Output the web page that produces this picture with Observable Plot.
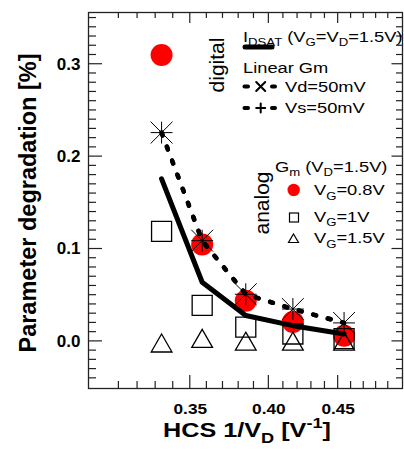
<!DOCTYPE html>
<html><head><meta charset="utf-8">
<script src="https://cdn.jsdelivr.net/npm/d3@7"></script>
<script src="https://cdn.jsdelivr.net/npm/@observablehq/plot@0.6"></script>
<style>body{margin:0;background:#fff} #chart{width:404px;height:451px}</style>
</head><body><div id="chart"></div>
<script>
// HCS drain voltages (V); x axis is 1/VD
const VD = [3.0, 2.8, 2.6, 2.4, 2.2];
const hcs = VD.map(v => 1 / v);
// IDSAT (VG=VD=1.5V) degradation [%]
const idsat = [0.176, 0.064, 0.028, 0.017, 0.008];
// Linear Gm, Vd=50mV and Vs=50mV
const gmVd = [0.226, 0.109, 0.051, 0.035, 0.020];
const gmVs = [0.226, 0.109, 0.051, 0.035, 0.020];
// Gm (VD=1.5V) at VG = 0.8V, 1V, 1.5V
const gmVg08 = [0.310, 0.105, 0.044, 0.021, 0.006];
const gmVg1 = [0.119, 0.039, 0.0155, 0.008, 0.003];
const gmVg15 = [-0.005, 0.000, -0.003, -0.003, -0.003];
// ticks
const xMajor = [0.35, 0.40, 0.45];
const xMinor = [0.31,0.32,0.33,0.34,0.36,0.37,0.38,0.39,0.41,0.42,0.43,0.44,0.46,0.47,0.48,0.49];
const yMajor = [0.0, 0.1, 0.2, 0.3];
const yMinor = [-0.04,-0.03,-0.02,-0.01,0.01,0.02,0.03,0.04,0.05,0.06,0.07,0.08,0.09,0.11,0.12,0.13,0.14,0.15,0.16,0.17,0.18,0.19,0.21,0.22,0.23,0.24,0.25,0.26,0.27,0.28,0.29,0.31,0.32,0.33,0.34,0.35];

const FONT = "'Liberation Sans', Arial, Helvetica, sans-serif";

const plot = Plot.plot({
  width: 404, height: 451,
  marginLeft: 88, marginRight: 2, marginTop: 12, marginBottom: 63,
  style: {fontFamily: FONT, background: "white", color: "black"},
  x: {type: "log", domain: [0.2944, 0.502]},
  y: {domain: [-0.051, 0.356]},
  marks: [
    Plot.dot(gmVg08, {x: hcs, y: gmVg08, r: 11, fill: "#ff0000", stroke: "none"}),
    Plot.dot(gmVg1, {x: hcs, y: gmVg1, r: 11.3, symbol: "square", fill: "none", stroke: "black", strokeWidth: 1.3}),
    Plot.dot(gmVg15, {x: hcs, y: gmVg15, r: 7.7, symbol: "triangle", fill: "none", stroke: "black", strokeWidth: 1.3}),
    Plot.line(idsat, {x: hcs, y: idsat, stroke: "black", strokeWidth: 5, strokeLinejoin: "round"}),
    Plot.line(gmVd, {x: hcs, y: gmVd, stroke: "black", strokeWidth: 4.5, strokeDasharray: "3,12", strokeLinecap: "round"}),
    Plot.line(gmVs, {x: hcs, y: gmVs, stroke: "black", strokeWidth: 4.5, strokeDasharray: "3,12", strokeLinecap: "round"}),
    Plot.dot(gmVd, {x: hcs, y: gmVd, r: 10, symbol: "times", stroke: "black", strokeWidth: 1}),
    Plot.dot(gmVs, {x: hcs, y: gmVs, r: 7.1, symbol: "plus", stroke: "black", strokeWidth: 1}),
    Plot.axisX({ticks: xMajor, tickFormat: d => d.toFixed(2), tickSize: 0, tickPadding: 15, fontSize: 15, fontWeight: "bold", label: null}),
    Plot.axisY({ticks: yMajor, tickFormat: d => d.toFixed(1), tickSize: 0, tickPadding: 8, fontSize: 17, fontWeight: "bold", label: null}),
    Plot.frame({stroke: "#222", strokeWidth: 1.3})
  ]
});
document.getElementById("chart").appendChild(plot);

const svg = d3.select(plot);
// stretch x tick labels horizontally
svg.selectAll('g[aria-label="x-axis tick label"] text').each(function() {
  const t = d3.select(this); t.attr("transform", (t.attr("transform") || "") + " scale(1.15,1)");
});
const sx = plot.scale("x"), sy = plot.scale("y");
const [xa, xb] = sx.range, [ya, yb] = sy.range; // ya bottom, yb top
const tg = svg.append("g").attr("stroke", "#222").attr("stroke-width", 1.2);
function xt(v, len) {
  const x = sx.apply(v);
  tg.append("line").attr("x1", x).attr("x2", x).attr("y1", ya).attr("y2", ya - len);
  tg.append("line").attr("x1", x).attr("x2", x).attr("y1", yb).attr("y2", yb + len * 0.85);
}
function yt(v, len) {
  const y = sy.apply(v);
  tg.append("line").attr("y1", y).attr("y2", y).attr("x1", xa).attr("x2", xa + len);
  tg.append("line").attr("y1", y).attr("y2", y).attr("x1", xb).attr("x2", xb - len * 0.75);
}
xMajor.forEach(v => xt(v, 13)); xMinor.forEach(v => xt(v, 7));
yMajor.forEach(v => yt(v, 14)); yMinor.forEach(v => yt(v, 8));

function rich(g, x, y, parts, {size = 15.5, weight = "normal", sx = 1.18, anchor = "start", rotate = 0} = {}) {
  const t = g.append("text")
    .attr("transform", `translate(${x},${y}) scale(${sx},1)` + (rotate ? ` rotate(${rotate})` : ""))
    .attr("font-size", size).attr("font-weight", weight).attr("text-anchor", anchor)
    .attr("fill", "black").attr("font-family", FONT);
  let shift = 0;
  for (const [s, kind] of parts) {
    const target = kind === "sub" ? size * 0.3 : kind === "sup" ? -size * 0.42 : 0;
    const ts = t.append("tspan").text(s).attr("dy", target - shift);
    if (kind) ts.attr("font-size", size * 0.72);
    shift = target;
  }
  return t;
}

const lg = svg.append("g");
// IDSAT legend
rich(lg, 243, 41.7, [["I"], ["DSAT", "sub"], [" (V"], ["G", "sub"], ["=V"], ["D", "sub"], ["=1.5V)"]]);
lg.append("line").attr("x1", 245).attr("x2", 272).attr("y1", 47).attr("y2", 47)
  .attr("stroke", "black").attr("stroke-width", 5).attr("stroke-linecap", "round");
rich(lg, 243, 72.7, [["Linear Gm"]]);
function dashMarker(y, kind) {
  const s = lg.append("g").attr("stroke", "black").attr("stroke-linecap", "round");
  s.append("line").attr("x1", 244.5).attr("x2", 248).attr("y1", y).attr("y2", y).attr("stroke-width", 4);
  s.append("line").attr("x1", 272).attr("x2", 275).attr("y1", y).attr("y2", y).attr("stroke-width", 4);
  const c = 260.7, h = 4.5;
  if (kind === "times") {
    s.append("line").attr("x1", c - h).attr("x2", c + h).attr("y1", y - h).attr("y2", y + h).attr("stroke-width", 2);
    s.append("line").attr("x1", c - h).attr("x2", c + h).attr("y1", y + h).attr("y2", y - h).attr("stroke-width", 2);
  } else {
    s.append("line").attr("x1", c - h).attr("x2", c + h).attr("y1", y).attr("y2", y).attr("stroke-width", 2);
    s.append("line").attr("x1", c).attr("x2", c).attr("y1", y - h).attr("y2", y + h).attr("stroke-width", 2);
  }
}
dashMarker(86.5, "times");
rich(lg, 285, 92.3, [["Vd=50mV"]]);
dashMarker(108, "plus");
rich(lg, 285, 112.7, [["Vs=50mV"]]);
rich(lg, 223.6, 65, [["digital"]], {size: 21, sx: 1, anchor: "middle", rotate: -90});

// Gm legend
rich(lg, 275, 171.7, [["G"], ["m", "sub"], [" (V"], ["D", "sub"], ["=1.5V)"]]);
lg.append("circle").attr("cx", 293.7).attr("cy", 190).attr("r", 6.2).attr("fill", "#ff0000");
rich(lg, 314, 195, [["V"], ["G", "sub"], ["=0.8V"]]);
lg.append("rect").attr("x", 289.5).attr("y", 213).attr("width", 9).attr("height", 9)
  .attr("fill", "none").attr("stroke", "black").attr("stroke-width", 1.2);
rich(lg, 314, 221.7, [["V"], ["G", "sub"], ["=1V"]]);
lg.append("path").attr("d", "M293.5,234 L298.5,242.5 L288.5,242.5 Z")
  .attr("fill", "none").attr("stroke", "black").attr("stroke-width", 1.2);
rich(lg, 314, 243, [["V"], ["G", "sub"], ["=1.5V"]]);
rich(lg, 268.6, 203, [["analog"]], {size: 21, sx: 1, anchor: "middle", rotate: -90});

// axis titles
rich(svg, 247, 437, [["HCS 1/V"], ["D", "sub"], [" [V"], ["-1", "sup"], ["]"]], {size: 21, weight: "bold", sx: 1.2, anchor: "middle"});
rich(svg, 35.5, 203, [["Parameter degradation [%]"]], {size: 23.5, weight: "bold", sx: 1, anchor: "middle", rotate: -90});
</script></body></html>
